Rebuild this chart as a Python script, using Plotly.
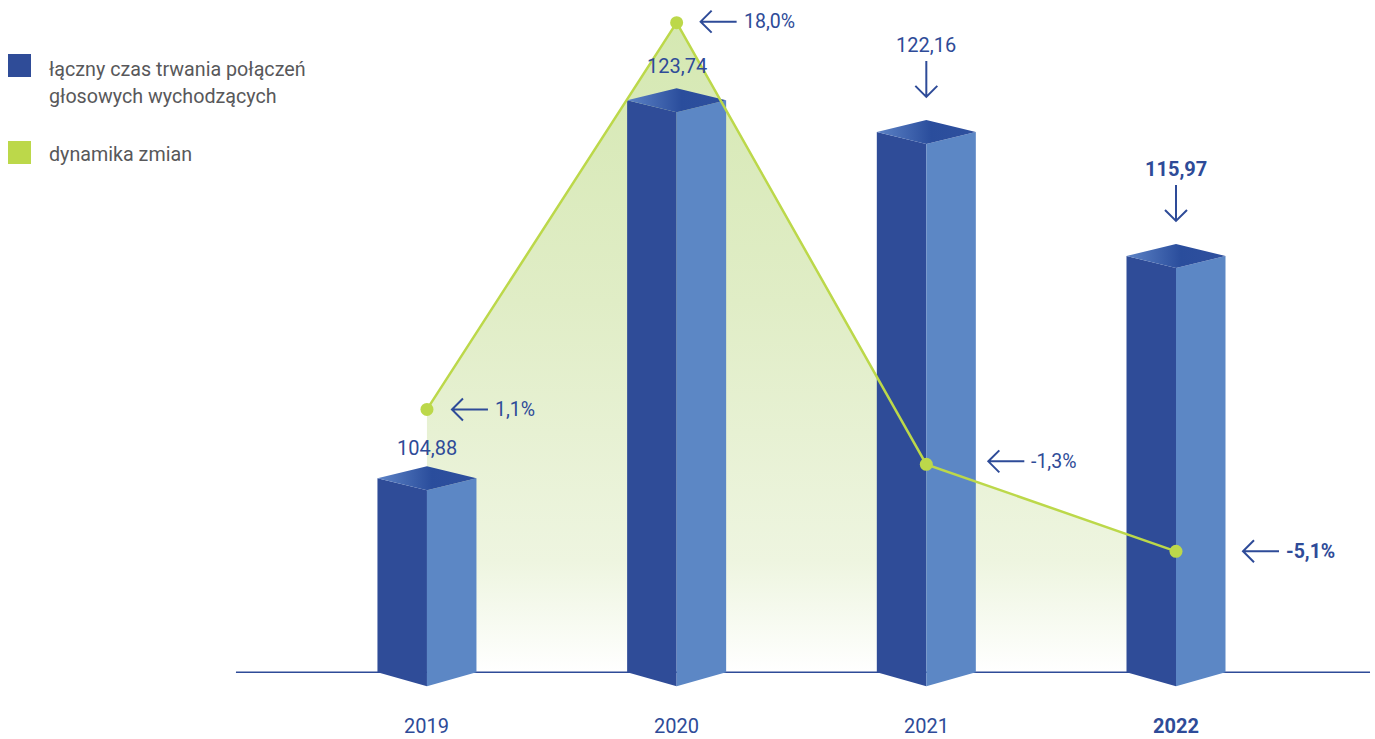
import plotly.graph_objects as go

# ---- data -------------------------------------------------------------
years = ["2019", "2020", "2021", "2022"]
duration = [104.88, 123.74, 122.16, 115.97]          # łączny czas trwania połączeń
duration_labels = ["104,88", "123,74", "122,16", "115,97"]
change_pct = [1.1, 18.0, -1.3, -5.1]                 # dynamika zmian, %
change_labels = ["1,1%", "18,0%", "-1,3%", "-5,1%"]

# ---- canvas / axes ----------------------------------------------------
W, H = 1375, 739
X_RANGE = [-1.710, 3.797]
V_RANGE = [91.87, 128.74]     # value axis (bars)
P_RANGE = [-13.30, 18.99]     # percent axis (change line)
V_BASE = 95.2                 # value at which the bars stand on the floor line

px_x = (X_RANGE[1] - X_RANGE[0]) / W
px_v = (V_RANGE[1] - V_RANGE[0]) / H
p_base = P_RANGE[0] + (V_BASE - V_RANGE[0]) / (V_RANGE[1] - V_RANGE[0]) * (P_RANGE[1] - P_RANGE[0])

HALF_W = 49.5 * px_x
TOP_D = 12 * px_v
BOT_D = 14 * px_v

DARK = "#2f4c98"
LIGHT = "#5c87c5"
GREEN = "#bcd84a"
TEXT_BLUE = "#2e4b98"
GREY = "#58585a"
FONT = "Roboto"

xs = list(range(len(years)))
fig = go.Figure()

# shaded area under the change line
fig.add_trace(go.Scatter(
    x=[xs[0]] + xs + [xs[-1]],
    y=[p_base] + change_pct + [p_base],
    fill="toself", mode="none", yaxis="y",
    fillgradient=dict(type="vertical",
                      colorscale=[[0, "#ffffff"], [0.17, "#eef5e0"],
                                  [0.57, "#e0edc6"], [1, "#d5e8b2"]]),
    hoverinfo="skip", showlegend=False,
))

# floor line
fig.add_trace(go.Scatter(
    x=[-0.765, 3.777], y=[V_BASE, V_BASE], mode="lines", yaxis="y2",
    line=dict(color=TEXT_BLUE, width=1.5), hoverinfo="skip", showlegend=False,
))

# pseudo-3D bars: left face, right face, top
left_x, left_y, right_x, right_y = [], [], [], []
for c, v in zip(xs, duration):
    left_x += [c - HALF_W, c, c, c - HALF_W, None]
    left_y += [v, v - TOP_D, V_BASE - BOT_D, V_BASE, None]
    right_x += [c, c + HALF_W, c + HALF_W, c, None]
    right_y += [v - TOP_D, v, V_BASE, V_BASE - BOT_D, None]

fig.add_trace(go.Scatter(x=left_x, y=left_y, fill="toself", fillcolor=DARK,
                         mode="lines", line=dict(width=0, color=DARK), yaxis="y2",
                         hoverinfo="skip", showlegend=False))
fig.add_trace(go.Scatter(x=right_x, y=right_y, fill="toself", fillcolor=LIGHT,
                         mode="lines", line=dict(width=0, color=LIGHT), yaxis="y2",
                         hoverinfo="skip", showlegend=False))
for c, v in zip(xs, duration):
    fig.add_trace(go.Scatter(
        x=[c - HALF_W, c, c + HALF_W, c, c - HALF_W],
        y=[v, v + TOP_D, v, v - TOP_D, v],
        fill="toself", mode="lines", line=dict(width=0, color=DARK), yaxis="y2",
        fillgradient=dict(type="horizontal",
                          colorscale=[[0, "#5d83c6"], [0.55, "#2a4d9c"], [1, "#2f509e"]]),
        hoverinfo="skip", showlegend=False,
    ))

# change line with markers
fig.add_trace(go.Scatter(
    x=xs, y=change_pct, mode="lines+markers", yaxis="y3",
    line=dict(color=GREEN, width=2.5), marker=dict(color=GREEN, size=13),
    hoverinfo="skip", showlegend=False,
))

annotations = []
shapes = []

# year labels under the floor
for i, yr in enumerate(years):
    txt = f"<b>{yr}</b>" if i == len(years) - 1 else yr
    annotations.append(dict(x=i, y=0, xref="x", yref="paper", text=txt, showarrow=False,
                            yanchor="bottom", yshift=0, borderpad=0,
                            font=dict(family=FONT, size=20, color=TEXT_BLUE)))

# bar value labels
value_shift = [30, 34, 87, 87]
value_arrow = [False, False, True, True]
for i, (v, lab) in enumerate(zip(duration, duration_labels)):
    txt = f"<b>{lab}</b>" if i == len(years) - 1 else lab
    annotations.append(dict(x=i, y=v, xref="x", yref="y2", text=txt, showarrow=False,
                            yanchor="middle", yshift=value_shift[i],
                            font=dict(family=FONT, size=20, color=TEXT_BLUE)))
    if value_arrow[i]:
        shapes.append(dict(type="path", xref="x", yref="y2", xsizemode="pixel",
                           ysizemode="pixel", xanchor=i, yanchor=v,
                           path="M0,35 L0,71 M-11,46 L0,35 L11,46",
                           line=dict(color=TEXT_BLUE, width=2), layer="above"))

# change labels with left-pointing arrows
pct_dx = [25, 24, 62, 67]
pct_dy = [0, 1, 3, 0]
for i, (p, lab) in enumerate(zip(change_pct, change_labels)):
    dx, dy = pct_dx[i], pct_dy[i]
    txt = f"<b>{lab}</b>" if i == len(years) - 1 else lab
    shapes.append(dict(type="path", xref="x", yref="y3", xsizemode="pixel",
                       ysizemode="pixel", xanchor=i, yanchor=p,
                       path=f"M{dx},{dy} L{dx + 36},{dy} M{dx + 11},{dy + 11} L{dx},{dy} L{dx + 11},{dy - 11}",
                       line=dict(color=TEXT_BLUE, width=2), layer="above"))
    annotations.append(dict(x=i, y=p, xref="x", yref="y3", text=txt, showarrow=False,
                            xanchor="left", yanchor="middle", xshift=dx + 41, yshift=dy,
                            font=dict(family=FONT, size=19.5, color=TEXT_BLUE)))

# legend
def px_rect(x0, y0, x1, y1, color):
    return dict(type="rect", xref="paper", yref="paper",
                x0=x0 / W, x1=x1 / W, y0=1 - y1 / H, y1=1 - y0 / H,
                fillcolor=color, line=dict(width=0), layer="above")

shapes.append(px_rect(8, 54, 31, 77, DARK))
shapes.append(px_rect(8, 141, 31, 164, GREEN))
for text, ypx in [("łączny czas trwania połączeń", 69),
                  ("głosowych wychodzących", 96),
                  ("dynamika zmian", 155)]:
    annotations.append(dict(x=47 / W, y=1 - ypx / H, xref="paper", yref="paper",
                            text=text, showarrow=False, xanchor="left", yanchor="middle",
                            font=dict(family=FONT, size=19.7, color=GREY)))

fig.update_layout(
    width=W, height=H,
    margin=dict(l=0, r=0, t=0, b=0),
    paper_bgcolor="white", plot_bgcolor="white",
    xaxis=dict(range=X_RANGE, visible=False, fixedrange=True),
    yaxis=dict(range=P_RANGE, visible=False, fixedrange=True),
    yaxis2=dict(range=V_RANGE, visible=False, overlaying="y", fixedrange=True),
    yaxis3=dict(range=P_RANGE, visible=False, overlaying="y", fixedrange=True),
    annotations=annotations,
    shapes=shapes,
    showlegend=False,
)

fig.write_html("out.html")
